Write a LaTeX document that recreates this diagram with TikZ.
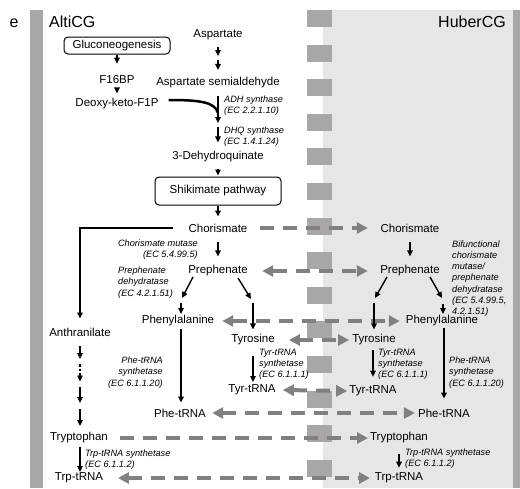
\documentclass[tikz,border=0pt]{standalone}
\usepackage{fontspec}
\setmainfont{Liberation Sans}
\usetikzlibrary{arrows.meta}
\definecolor{barC}{RGB}{170,166,165}
\definecolor{lightC}{RGB}{230,230,230}
\definecolor{arrC}{RGB}{128,128,128}
\begin{document}
\begin{tikzpicture}[x=1pt,y=-1pt,
  txt/.style={inner sep=0pt, font=\fontsize{11.5}{13}\selectfont},
  ttl/.style={inner sep=0pt, font=\fontsize{16}{18}\selectfont},
  enz/.style={inner sep=0pt, font=\fontsize{9.2}{11.2}\selectfont\itshape, align=left},
  enzr/.style={enz, align=right},
  pbox/.style={draw, line width=1pt, rounded corners=4pt, inner sep=0pt, font=\fontsize{11.5}{13}\selectfont},
  blk/.style={line width=1.4pt, -{Triangle[length=6pt,width=5.5pt]}},
  blkd/.style={blk, dash pattern=on 2.5pt off 2pt},
  gd/.style={draw=arrC, line width=4pt, dash pattern=on 14pt off 9pt, -{Triangle[length=11pt,width=11pt]}},
  gdd/.style={draw=arrC, line width=4pt, dash pattern=on 14pt off 9pt, {Triangle[length=11pt,width=11pt]}-{Triangle[length=11pt,width=11pt]}},
  thickline/.style={line width=2.5pt}
]
\useasboundingbox (0,0) rectangle (520,488);
% backgrounds
\fill[lightC] (323,10) rectangle (513,488);
\fill[barC] (30,10) rectangle (43,488);
\fill[barC] (513,10) rectangle (520,488);
\foreach \k in {0,...,13} \fill[barC] (307,{10+34.6*\k}) rectangle (332,{27+34.6*\k});

% titles
\node[ttl] (elabel) at (14,23) {e};
\node[ttl, anchor=west] (alti) at (49,22) {AltiCG};
\node[ttl, anchor=east] (huber) at (506,22) {HuberCG};

% left nodes
\node[pbox, minimum width=106pt, minimum height=17pt] (gluco) at (117,45.5) {Gluconeogenesis};
\node[txt] (asp) at (218,35) {Aspartate};
\node[txt] (f16) at (117,80) {F16BP};
\node[txt] (aspsa) at (218,82.5) {Aspartate semialdehyde};
\node[txt] (deoxy) at (117,104) {Deoxy-keto-F1P};
\node[enz, anchor=west] (adh) at (224,106) {ADH synthase\\(EC 2.2.1.10)};
\node[enz, anchor=west] (dhqs) at (224,136.5) {DHQ synthase\\(EC 1.4.1.24)};
\node[txt] (dhq3) at (218,157) {3-Dehydroquinate};
\node[pbox, minimum width=126pt, minimum height=28pt] (shik) at (218,191) {Shikimate pathway};
\node[txt] (chorL) at (218,228) {Chorismate};
\node[enzr, anchor=east] (cmut) at (198,250) {Chorismate mutase\\(EC 5.4.99.5)};
\node[txt] (prephL) at (218,271) {Prephenate};
\node[enz, anchor=west] (pdeh) at (118,282.5) {Prephenate\\dehydratase\\(EC 4.2.1.51)};
\node[txt] (pheL) at (178,321) {Phenylalanine};
\node[txt] (tyrL) at (253,340) {Tyrosine};
\node[txt] (anth) at (80,332) {Anthranilate};
\node[enzr, anchor=east] (phesL) at (163,372.5) {Phe-tRNA\\synthetase\\(EC 6.1.1.20)};
\node[enz, anchor=west] (tyrsL) at (259,364) {Tyr-tRNA\\synthetase\\(EC 6.1.1.1)};
\node[txt] (tyrtL) at (252,390) {Tyr-tRNA};
\node[txt] (phetL) at (180,413) {Phe-tRNA};
\node[txt] (trpL) at (79,438) {Tryptophan};
\node[enz, anchor=west] (trpsL) at (85,459.5) {Trp-tRNA synthetase\\(EC 6.1.1.2)};
\node[txt] (trptL) at (79,478) {Trp-tRNA};

% right nodes
\node[txt] (chorR) at (410,228) {Chorismate};
\node[txt] (prephR) at (410,271) {Prephenate};
\node[enz, anchor=west] (bif) at (452,278.5) {Bifunctional\\chorismate\\mutase/\\prephenate\\dehydratase\\(EC 5.4.99.5,\\4.2.1.51)};
\node[txt] (pheR) at (442,321) {Phenylalanine};
\node[txt] (tyrR) at (374,340) {Tyrosine};
\node[enz, anchor=west] (tyrsR) at (378,364) {Tyr-tRNA\\synthetase\\(EC 6.1.1.1)};
\node[enz, anchor=west] (phesR) at (449,372.5) {Phe-tRNA\\synthetase\\(EC 6.1.1.20)};
\node[txt] (tyrtR) at (373,391) {Tyr-tRNA};
\node[txt] (phetR) at (444,413) {Phe-tRNA};
\node[txt] (trpR) at (399,438) {Tryptophan};
\node[enz, anchor=west] (trpsR) at (405,458.5) {Trp-tRNA synthetase\\(EC 6.1.1.2)};
\node[txt] (trptR) at (399,478) {Trp-tRNA};

% gray comparison arrows
\draw[gd] ([xshift=12.6pt]chorL.east) -- ([xshift=-12.6pt]chorR.west);
\draw[gdd] ([xshift=14.3pt]prephL.east) -- ([xshift=-12.3pt]prephR.west);
\draw[gdd] ([xshift=7.9pt]pheL.east) -- ([xshift=-5.9pt]pheR.west);
\draw[gdd] ([xshift=14pt]tyrL.east) -- ([xshift=-3pt]tyrR.west);
\draw[gdd] ([xshift=7pt]tyrtL.east) -- ([xshift=-2pt]tyrtR.west);
\draw[gdd] ([xshift=6.1pt]phetL.east) -- ([xshift=-3.1pt]phetR.west);
\draw[gd] ([xshift=11.9pt]trpL.east) -- ([xshift=-1.9pt]trpR.west);
\draw[gdd] ([xshift=14.7pt]trptL.east) -- ([xshift=-4.7pt]trptR.west);

% coordinates for multistep arrows
\coordinate (aspmid) at (218,58);
\coordinate (adhmid) at (218,125);
\coordinate (join) at (218,113);
\coordinate (anA) at (80,360.5);
\coordinate (anB) at (80,384);
\coordinate (anC) at (80,405.5);
\coordinate (pLa) at (193,277); \coordinate (pLb) at (182,298);
\coordinate (pLc) at (181,303); \coordinate (pLd) at (181,314);
\coordinate (pRa) at (238,278); \coordinate (pRb) at (251,299);
\coordinate (pRc) at (253,303);
\coordinate (qLa) at (387,277); \coordinate (qLb) at (375,298);
\coordinate (qLc) at (374,303);
\coordinate (qRa) at (430,277); \coordinate (qRb) at (442,298);
\coordinate (qRc) at (443,304); \coordinate (qRd) at (443,314);

% black arrows, left
\draw[blk, shorten >=12pt] (gluco.south) -- (f16);
\draw[blkd, shorten <=6pt, shorten >=5pt] (f16) -- (deoxy);
\draw[blk, shorten <=7pt, shorten >=2pt] (asp) -- (aspmid);
\draw[blk, shorten <=2pt, shorten >=7pt] (aspmid) -- (aspsa);
\draw[blk, shorten <=7.5pt, shorten >=2pt] (aspsa) -- (adhmid);
\draw[blk, shorten <=2pt, shorten >=9pt] (adhmid) -- (dhq3);
\draw[thickline] ([xshift=10pt,yshift=4pt]deoxy.east) .. controls (200,100) and (215,102) .. (join);
\draw[blk, shorten <=6pt, shorten >=1pt] (dhq3) -- (shik.north);
\draw[blk, shorten >=7pt] (shik.south) -- (chorL);
\draw[blk, shorten >=9pt] ([xshift=-15pt]chorL.west) -| (anth);
\draw[blk, shorten <=10pt, shorten >=9pt] (chorL) -- (prephL);
\draw[blk] (pLa) -- (pLb);
\draw[blk] (pLc) -- (pLd);
\draw[blk] (pRa) -- (pRb);
\draw[blk, shorten >=5pt] (pRc) -- (tyrL);
\draw[blk] ([xshift=3pt,yshift=-2pt]pheL.south) -- ([xshift=1pt,yshift=6pt]phetL.north);
\draw[blk, shorten <=10pt, shorten >=8pt] (tyrL) -- (tyrL|-tyrtL);
\draw[blk, shorten <=10pt, shorten >=1.5pt] (anth) -- (anA);
\draw[blkd, shorten <=3.5pt, shorten >=2.5pt] (anA) -- (anB);
\draw[blk, shorten <=3pt, shorten >=2.5pt] (anB) -- (anC);
\draw[blk, shorten <=3.5pt, shorten >=12pt] (anC) -- (anth|-trpL);
\draw[blk, shorten <=9pt, shorten >=6pt] (anth|-trpL) -- (anth|-trptL);

% black arrows, right
\draw[blk, shorten <=10pt, shorten >=9pt] (chorR) -- (prephR);
\draw[blk] (qLa) -- (qLb);
\draw[blk, shorten >=5pt] (qLc) -- (tyrR);
\draw[blk] (qRa) -- (qRb);
\draw[blk] (qRc) -- (qRd);
\draw[blk, shorten <=7pt, shorten >=10pt] ([xshift=2pt]pheR.center) -- (phetR);
\draw[blk, shorten <=10pt, shorten >=9pt] (tyrtR|-tyrR) -- (tyrtR);
\draw[blk, shorten <=10pt, shorten >=5pt] (trpR) -- (trptR);
\end{tikzpicture}
\end{document}
